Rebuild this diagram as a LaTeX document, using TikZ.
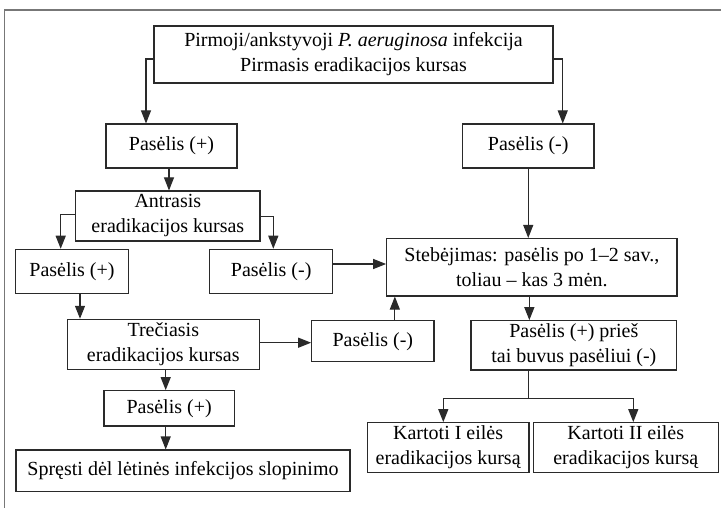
\documentclass[tikz,border=0pt]{standalone}
\usepackage{fontspec}
\setmainfont{Liberation Serif}
\usetikzlibrary{arrows.meta}
\definecolor{boxcol}{HTML}{2A2A2A}
\definecolor{framecol}{HTML}{777777}
\tikzset{
  box/.style={draw=boxcol, line width=1.1pt, inner sep=0pt, align=center,
    font=\fontsize{20}{25}\selectfont, text=black},
  arr/.style={draw=boxcol, line width=1.1pt, -{Triangle[length=13pt,width=10pt]}},
  ln/.style={draw=boxcol, line width=1.1pt}
}
\begin{document}
\begin{tikzpicture}[x=1pt,y=-1pt]
\useasboundingbox (0,0) rectangle (721,508);
\draw[framecol, line width=1.6pt] (4.3,508) -- (4.3,10) -- (721,10);

\node[box, minimum width=399pt, minimum height=57pt] (top) at (353.5,54.5)
  {Pirmoji/ankstyvoji \textit{P. aeruginosa} infekcija\\Pirmasis eradikacijos kursas};
\node[box, minimum width=131pt, minimum height=44pt] (p1) at (171.5,146) {Pasėlis (+)};
\node[box, minimum width=131.5pt, minimum height=44pt] (n1) at (528.25,146) {Pasėlis (-)};
\node[box, minimum width=184.3pt, minimum height=50pt] (antr) at (167.85,216) {Antrasis\\eradikacijos kursas};
\node[box, minimum width=112.6pt, minimum height=44pt] (p2) at (72,271.3) {Pasėlis (+)};
\node[box, minimum width=123pt, minimum height=44pt] (n2) at (271.2,271.3) {Pasėlis (-)};
\node[box, minimum width=290.3pt, minimum height=57.5pt] (steb) at (531.85,267.25) {Stebėjimas: pasėlis po 1–2 sav.,\\toliau – kas 3 mėn.};
\node[box, minimum width=192pt, minimum height=50pt] (trec) at (163.3,344.3) {Trečiasis\\eradikacijos kursas};
\node[box, minimum width=122.3pt, minimum height=41pt] (n3) at (372.85,341.2) {Pasėlis (-)};
\node[box, minimum width=205.7pt, minimum height=49.3pt] (prie) at (573.85,345.35) {Pasėlis (+) prieš\\tai buvus pasėliui (-)};
\node[box, minimum width=130.3pt, minimum height=35.3pt] (p3) at (169.15,408.35) {Pasėlis (+)};
\node[box, minimum width=334pt, minimum height=41.7pt] (spr) at (183,470.85) {Spręsti dėl lėtinės infekcijos slopinimo};
\node[box, minimum width=161.7pt, minimum height=49.6pt] (k1) at (448.15,447.5) {Kartoti I eilės\\eradikacijos kursą};
\node[box, minimum width=185pt, minimum height=49.6pt] (k2) at (625.8,447.5) {Kartoti II eilės\\eradikacijos kursą};

\draw[arr] ([yshift=-4.5pt]top.west) -| ([xshift=-25.5pt]p1.north);
\draw[arr] ([yshift=-4.5pt]top.east) -| ([xshift=34.5pt]n1.north);
\draw[arr] ([xshift=-2.5pt]p1.south) -- ([xshift=-2.5pt]p1.south |- antr.north);
\draw[arr] ([yshift=1.7pt]antr.west) -| ([xshift=-11.3pt]p2.north);
\draw[arr] ([yshift=-0.7pt]antr.east) -| ([xshift=2.1pt]n2.north);
\draw[arr] ([yshift=7.3pt]n2.east) -- ([yshift=7.3pt]n2.east -| steb.west);
\draw[arr] (n1.south) -- (n1.south |- steb.north);
\draw[arr] ([xshift=-2.5pt]steb.south) -- ([xshift=-2.5pt]steb.south |- prie.north);
\draw[arr] ([xshift=22pt]n3.north) -- ([xshift=22pt]n3.north |- steb.south);
\draw[arr] ([xshift=8pt]p2.south) -- ([xshift=8pt]p2.south |- trec.north);
\draw[arr] ([yshift=1.6pt]trec.east) -- ([yshift=1.6pt]trec.east -| n3.west);
\draw[arr] ([xshift=2.4pt]trec.south) -- ([xshift=2.4pt]trec.south |- p3.north);
\draw[arr] ([xshift=-3.45pt]p3.south) -- ([xshift=-3.45pt]p3.south |- spr.north);
\coordinate (split) at (528.3,398.3);
\draw[ln] (prie.south -| split) -- (split);
\draw[arr] (split) -| ([xshift=-4.85pt]k1.north);
\draw[arr] (split) -| ([xshift=7.5pt]k2.north);
\end{tikzpicture}
\end{document}
